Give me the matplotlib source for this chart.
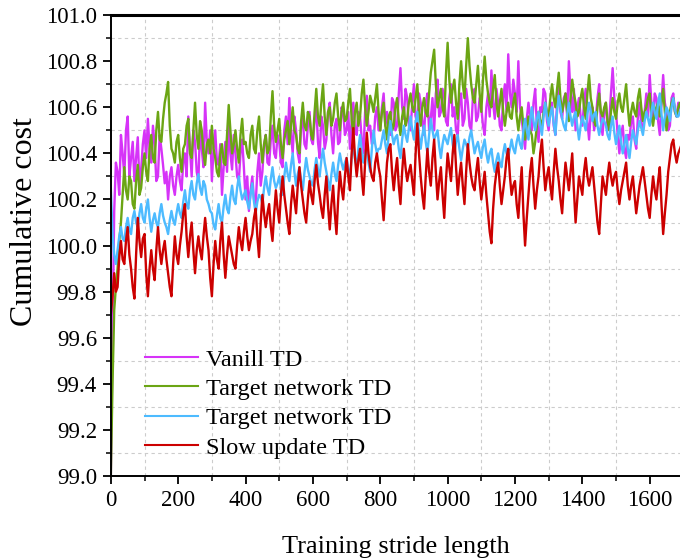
import matplotlib
matplotlib.use("Agg")
import matplotlib.pyplot as plt
import numpy as np
from matplotlib.ticker import MultipleLocator, FormatStrFormatter

step = 10
labels = ["Vanill TD", "Target network TD", "Target network TD", "Slow update TD"]
colors = ["#d633f8", "#6ba514", "#4dbbff", "#cc0000"]

# values at x = 0, 10, 20, ...
vanill = [
    99.00, 100.15, 100.32, 100.48, 100.30, 100.56, 100.38, 100.28, 100.47, 100.33,
    100.50, 100.55, 100.36, 100.44, 100.30, 100.42, 100.27, 100.20, 100.34, 100.22,
    100.35, 100.24, 100.40, 100.56, 100.30, 100.45, 100.28, 100.42, 100.62, 100.40,
    100.28, 100.50, 100.35, 100.22, 100.45, 100.52, 100.33, 100.40, 100.28, 100.46,
    100.20, 100.15, 100.30, 100.18, 100.40, 100.32, 100.48, 100.35, 100.52, 100.38,
    100.45, 100.34, 100.56, 100.64, 100.40, 100.50, 100.36, 100.55, 100.42, 100.58,
    100.44, 100.60, 100.38, 100.52, 100.46, 100.62, 100.40, 100.55, 100.45, 100.58,
    100.50, 100.42, 100.62, 100.48, 100.56, 100.40, 100.65, 100.52, 100.45, 100.60,
    100.50, 100.66, 100.58, 100.48, 100.62, 100.52, 100.77, 100.55, 100.64, 100.50,
    100.70, 100.52, 100.62, 100.48, 100.66, 100.55, 100.50, 100.72, 100.58, 100.64,
    100.52, 100.70, 100.60, 100.48, 100.66, 100.55, 100.62, 100.50, 100.68, 100.56,
    100.60, 100.48, 100.66, 100.76, 100.55, 100.62, 100.50, 100.70, 100.83, 100.60,
    100.66, 100.80, 100.55, 100.42, 100.62, 100.50, 100.68, 100.45, 100.58, 100.66,
    100.50, 100.62, 100.48, 100.70, 100.55, 100.66, 100.80, 100.58, 100.50, 100.64,
    100.52, 100.68, 100.46, 100.60, 100.55, 100.70, 100.48, 100.62, 100.54, 100.77,
    100.58, 100.40, 100.52, 100.38, 100.46, 100.56, 100.42, 100.62, 100.50, 100.66,
    100.74, 100.55, 100.64, 100.48, 100.74, 100.58, 100.52, 100.66, 100.56, 100.60,
]
# values at x = 5, 15, 25, ...
vanill_mid = [
    99.60, 100.36, 100.22, 100.40, 100.50, 100.30, 100.45, 100.38, 100.26, 100.44,
    100.38, 100.42, 100.52, 100.28, 100.48, 100.35, 100.32, 100.30, 100.26, 100.30,
    100.28, 100.36, 100.30, 100.42, 100.50, 100.32, 100.52, 100.34, 100.45, 100.50,
    100.42, 100.36, 100.44, 100.34, 100.32, 100.40, 100.48, 100.30, 100.40, 100.34,
    100.30, 100.24, 100.20, 100.32, 100.26, 100.44, 100.36, 100.46, 100.40, 100.48,
    100.36, 100.50, 100.44, 100.48, 100.56, 100.40, 100.52, 100.44, 100.52, 100.46,
    100.54, 100.45, 100.56, 100.42, 100.58, 100.48, 100.52, 100.44, 100.60, 100.48,
    100.58, 100.54, 100.50, 100.58, 100.46, 100.58, 100.50, 100.44, 100.56, 100.50,
    100.60, 100.52, 100.50, 100.64, 100.50, 100.66, 100.60, 100.68, 100.52, 100.62,
    100.56, 100.66, 100.54, 100.62, 100.50, 100.64, 100.66, 100.56, 100.68, 100.54,
    100.64, 100.56, 100.50, 100.62, 100.52, 100.68, 100.52, 100.64, 100.54, 100.64,
    100.52, 100.60, 100.56, 100.62, 100.68, 100.52, 100.64, 100.58, 100.66, 100.72,
    100.58, 100.60, 100.48, 100.55, 100.56, 100.62, 100.52, 100.60, 100.68, 100.54,
    100.60, 100.52, 100.62, 100.58, 100.64, 100.56, 100.66, 100.68, 100.60, 100.56,
    100.62, 100.54, 100.58, 100.50, 100.64, 100.54, 100.58, 100.50, 100.66, 100.64,
    100.48, 100.48, 100.42, 100.48, 100.54, 100.46, 100.56, 100.52, 100.58, 100.56,
    100.62, 100.66, 100.54, 100.62, 100.62, 100.50, 100.64, 100.58, 100.62, 100.56,
]

target_a = [
    99.00, 99.72, 99.90, 100.10, 100.34, 100.20, 100.28, 100.16, 100.35, 100.25,
    100.40, 100.28, 100.48, 100.36, 100.58, 100.45, 100.62, 100.71, 100.42, 100.36,
    100.48, 100.32, 100.44, 100.55, 100.38, 100.62, 100.42, 100.50, 100.35, 100.46,
    100.52, 100.38, 100.30, 100.44, 100.35, 100.61, 100.40, 100.50, 100.36, 100.55,
    100.45, 100.38, 100.52, 100.40, 100.56, 100.36, 100.48, 100.42, 100.67, 100.45,
    100.55, 100.38, 100.50, 100.44, 100.60, 100.48, 100.40, 100.62, 100.50, 100.56,
    100.46, 100.68, 100.52, 100.70, 100.48, 100.60, 100.55, 100.66, 100.50, 100.62,
    100.55, 100.68, 100.48, 100.62, 100.56, 100.72, 100.52, 100.65, 100.58, 100.70,
    100.50, 100.62, 100.46, 100.58, 100.52, 100.64, 100.48, 100.60, 100.55, 100.66,
    100.58, 100.70, 100.52, 100.64, 100.56, 100.75, 100.85, 100.60, 100.68, 100.56,
    100.88, 100.62, 100.72, 100.55, 100.80, 100.64, 100.90, 100.70, 100.62, 100.78,
    100.58, 100.82, 100.66, 100.60, 100.74, 100.56, 100.68, 100.52, 100.62, 100.55,
    100.66, 100.50, 100.60, 100.46, 100.56, 100.48, 100.45, 100.58, 100.52, 100.62,
    100.56, 100.70, 100.60, 100.75, 100.58, 100.66, 100.54, 100.72, 100.62, 100.58,
    100.68, 100.55, 100.74, 100.60, 100.52, 100.66, 100.56, 100.62, 100.50, 100.64,
    100.55, 100.66, 100.58, 100.70, 100.52, 100.62, 100.56, 100.68, 100.54, 100.60,
    100.66, 100.52, 100.60, 100.56, 100.68, 100.50, 100.58, 100.64, 100.56, 100.62,
]
target_a_mid = [
    99.40, 99.82, 100.02, 100.22, 100.24, 100.30, 100.18, 100.28, 100.22, 100.34,
    100.32, 100.42, 100.38, 100.50, 100.46, 100.55, 100.66, 100.52, 100.40, 100.45,
    100.38, 100.42, 100.52, 100.40, 100.50, 100.48, 100.54, 100.40, 100.44, 100.40,
    100.42, 100.32, 100.40, 100.36, 100.48, 100.50, 100.44, 100.42, 100.48, 100.44,
    100.40, 100.48, 100.42, 100.50, 100.44, 100.44, 100.40, 100.56, 100.52, 100.50,
    100.44, 100.46, 100.54, 100.52, 100.50, 100.42, 100.54, 100.52, 100.58, 100.48,
    100.58, 100.56, 100.62, 100.56, 100.58, 100.52, 100.62, 100.56, 100.58, 100.54,
    100.62, 100.55, 100.58, 100.52, 100.66, 100.60, 100.58, 100.62, 100.64, 100.58,
    100.58, 100.52, 100.56, 100.50, 100.60, 100.54, 100.56, 100.52, 100.62, 100.60,
    100.64, 100.58, 100.60, 100.58, 100.66, 100.80, 100.70, 100.64, 100.60, 100.74,
    100.72, 100.68, 100.62, 100.70, 100.70, 100.78, 100.78, 100.64, 100.70, 100.66,
    100.72, 100.72, 100.62, 100.68, 100.62, 100.62, 100.58, 100.58, 100.56, 100.62,
    100.56, 100.56, 100.52, 100.52, 100.50, 100.40, 100.52, 100.54, 100.58, 100.58,
    100.64, 100.64, 100.68, 100.64, 100.62, 100.58, 100.64, 100.66, 100.56, 100.64,
    100.60, 100.66, 100.64, 100.54, 100.60, 100.58, 100.60, 100.54, 100.58, 100.58,
    100.62, 100.60, 100.64, 100.60, 100.58, 100.58, 100.64, 100.60, 100.58, 100.64,
    100.56, 100.58, 100.62, 100.62, 100.58, 100.56, 100.62, 100.58, 100.60, 100.58,
]

target_b = [
    100.25, 99.96, 99.98, 100.08, 100.02, 100.12, 100.05, 100.15, 100.08, 100.18,
    100.10, 100.20, 100.06, 100.14, 100.08, 100.18, 100.10, 100.05, 100.15, 100.09,
    100.18, 100.12, 100.24, 100.16, 100.28, 100.20, 100.31, 100.22, 100.26, 100.18,
    100.14, 100.07, 100.18, 100.10, 100.22, 100.14, 100.26, 100.18, 100.30, 100.20,
    100.24, 100.16, 100.27, 100.14, 100.22, 100.18, 100.30, 100.22, 100.34, 100.25,
    100.30, 100.22, 100.36, 100.28, 100.40, 100.26, 100.34, 100.24, 100.38, 100.30,
    100.26, 100.38, 100.30, 100.42, 100.32, 100.24, 100.36, 100.28, 100.40, 100.33,
    100.38, 100.30, 100.44, 100.34, 100.48, 100.36, 100.42, 100.32, 100.50, 100.40,
    100.42, 100.50, 100.40, 100.54, 100.44, 100.48, 100.38, 100.52, 100.45, 100.56,
    100.46, 100.58, 100.42, 100.52, 100.40, 100.55, 100.46, 100.50, 100.38, 100.48,
    100.44, 100.51, 100.40, 100.48, 100.37, 100.46, 100.42, 100.50, 100.40, 100.45,
    100.38, 100.46, 100.36, 100.42, 100.32, 100.40, 100.34, 100.44, 100.38, 100.46,
    100.40, 100.48, 100.42, 100.55, 100.46, 100.60, 100.50, 100.58, 100.48, 100.62,
    100.52, 100.60, 100.48, 100.65, 100.55, 100.50, 100.62, 100.52, 100.58, 100.46,
    100.56, 100.50, 100.62, 100.54, 100.58, 100.48, 100.55, 100.52, 100.46, 100.56,
    100.44, 100.52, 100.40, 100.48, 100.38, 100.50, 100.44, 100.54, 100.48, 100.58,
    100.52, 100.62, 100.55, 100.66, 100.50, 100.60, 100.54, 100.64, 100.56, 100.58,
]
target_b_mid = [
    100.05, 99.92, 100.04, 100.03, 100.08, 100.07, 100.12, 100.10, 100.14, 100.12,
    100.16, 100.12, 100.11, 100.10, 100.14, 100.13, 100.08, 100.11, 100.11, 100.14,
    100.14, 100.19, 100.18, 100.24, 100.22, 100.27, 100.25, 100.28, 100.20, 100.15,
    100.09, 100.13, 100.12, 100.17, 100.16, 100.21, 100.20, 100.25, 100.24, 100.22,
    100.19, 100.22, 100.19, 100.19, 100.21, 100.25, 100.25, 100.29, 100.28, 100.27,
    100.25, 100.30, 100.31, 100.35, 100.32, 100.31, 100.28, 100.32, 100.33, 100.27,
    100.33, 100.33, 100.37, 100.36, 100.28, 100.31, 100.31, 100.35, 100.36, 100.36,
    100.33, 100.38, 100.38, 100.42, 100.41, 100.40, 100.36, 100.42, 100.44, 100.42,
    100.46, 100.44, 100.48, 100.48, 100.47, 100.42, 100.46, 100.48, 100.51, 100.50,
    100.53, 100.48, 100.48, 100.45, 100.48, 100.50, 100.48, 100.43, 100.44, 100.46,
    100.48, 100.44, 100.45, 100.42, 100.42, 100.44, 100.47, 100.45, 100.43, 100.41,
    100.43, 100.40, 100.40, 100.36, 100.37, 100.36, 100.40, 100.40, 100.42, 100.42,
    100.45, 100.44, 100.50, 100.50, 100.54, 100.54, 100.55, 100.52, 100.56, 100.56,
    100.57, 100.53, 100.58, 100.60, 100.52, 100.57, 100.56, 100.56, 100.52, 100.52,
    100.53, 100.57, 100.58, 100.57, 100.52, 100.52, 100.54, 100.48, 100.52, 100.49,
    100.48, 100.45, 100.44, 100.42, 100.45, 100.47, 100.50, 100.51, 100.54, 100.55,
    100.58, 100.58, 100.62, 100.57, 100.56, 100.58, 100.60, 100.59, 100.56, 100.60,
]

slow = [
    99.70, 99.88, 99.82, 100.02, 99.92, 100.08, 99.90, 99.77, 100.12, 99.95,
    100.05, 99.78, 99.98, 99.85, 100.08, 99.92, 100.02, 99.88, 99.78, 100.04,
    99.92, 100.06, 100.18, 99.95, 100.10, 99.88, 100.04, 99.94, 100.12, 99.98,
    99.78, 100.02, 99.90, 100.10, 99.86, 100.04, 99.96, 99.90, 100.08, 99.98,
    100.12, 99.98, 100.05, 100.16, 99.95, 100.22, 100.08, 100.18, 100.02, 100.24,
    100.10, 100.30, 100.16, 100.05, 100.26, 100.14, 100.34, 100.20, 100.10, 100.28,
    100.18, 100.35, 100.22, 100.12, 100.30, 100.07, 100.26, 100.05, 100.32, 100.20,
    100.38, 100.24, 100.51, 100.30, 100.42, 100.22, 100.49, 100.34, 100.28, 100.40,
    100.30, 100.11, 100.36, 100.44, 100.24, 100.38, 100.18, 100.42, 100.28, 100.35,
    100.22, 100.53, 100.30, 100.16, 100.42, 100.26, 100.46, 100.20, 100.34, 100.12,
    100.40, 100.28, 100.48, 100.22, 100.36, 100.18, 100.44, 100.30, 100.24, 100.38,
    100.20, 100.32, 100.14, 100.01, 100.26, 100.36, 100.18, 100.30, 100.42, 100.22,
    100.28, 100.12, 100.34, 100.00, 100.22, 100.38, 100.16, 100.30, 100.46, 100.24,
    100.34, 100.20, 100.42, 100.28, 100.14, 100.36, 100.24, 100.40, 100.10, 100.30,
    100.22, 100.38, 100.26, 100.34, 100.18, 100.05, 100.30, 100.22, 100.36, 100.26,
    100.32, 100.18, 100.28, 100.36, 100.20, 100.30, 100.14, 100.26, 100.34, 100.22,
    100.12, 100.30, 100.20, 100.34, 100.05, 100.22, 100.38, 100.46, 100.36, 100.42,
]
slow_mid = [
    99.78, 99.80, 99.95, 99.94, 100.02, 99.96, 99.82, 99.96, 100.02, 100.03,
    99.88, 99.90, 99.90, 99.98, 99.98, 99.98, 99.94, 99.82, 99.92, 99.96,
    100.00, 100.14, 100.04, 100.04, 99.98, 99.98, 99.98, 100.04, 100.04, 99.86,
    99.92, 99.94, 100.02, 99.96, 99.96, 100.00, 99.92, 100.00, 100.02, 100.06,
    100.04, 100.02, 100.12, 100.04, 100.10, 100.14, 100.14, 100.08, 100.14, 100.16,
    100.22, 100.22, 100.10, 100.18, 100.20, 100.26, 100.26, 100.14, 100.20, 100.22,
    100.28, 100.27, 100.16, 100.22, 100.17, 100.18, 100.14, 100.20, 100.25, 100.30,
    100.30, 100.40, 100.38, 100.37, 100.30, 100.36, 100.40, 100.30, 100.36, 100.34,
    100.20, 100.24, 100.42, 100.32, 100.32, 100.26, 100.32, 100.34, 100.32, 100.28,
    100.40, 100.40, 100.22, 100.30, 100.32, 100.38, 100.32, 100.28, 100.22, 100.28,
    100.34, 100.40, 100.34, 100.30, 100.26, 100.32, 100.36, 100.26, 100.32, 100.28,
    100.26, 100.22, 100.06, 100.16, 100.32, 100.26, 100.24, 100.38, 100.30, 100.26,
    100.18, 100.24, 100.14, 100.12, 100.32, 100.26, 100.24, 100.40, 100.34, 100.30,
    100.26, 100.32, 100.34, 100.20, 100.26, 100.30, 100.32, 100.24, 100.20, 100.26,
    100.32, 100.30, 100.30, 100.26, 100.10, 100.18, 100.26, 100.30, 100.30, 100.30,
    100.24, 100.24, 100.32, 100.26, 100.26, 100.22, 100.20, 100.30, 100.28, 100.16,
    100.22, 100.24, 100.28, 100.18, 100.14, 100.32, 100.44, 100.40, 100.40, 100.44,
]

series = [(vanill, vanill_mid), (target_a, target_a_mid),
          (target_b, target_b_mid), (slow, slow_mid)]

plt.rcParams['font.family'] = ['Liberation Serif', 'DejaVu Serif']

fig = plt.figure(figsize=(6.8, 5.6), dpi=100)
ax = fig.add_axes([0.163, 0.15, 0.837, 0.823])

for (on, mid), lab, col in zip(series, labels, colors):
    n = len(on)
    xs = np.empty(2 * n)
    ys = np.empty(2 * n)
    xs[0::2] = np.arange(n) * step
    xs[1::2] = np.arange(n) * step + step / 2
    ys[0::2] = on
    ys[1::2] = mid
    ax.plot(xs, ys, color=col, lw=1.7, label=lab)

ax.set_xlim(0, 1690)
ax.set_ylim(99.0, 101.0)
ax.xaxis.set_major_locator(MultipleLocator(200))
ax.xaxis.set_minor_locator(MultipleLocator(100))
ax.yaxis.set_major_locator(MultipleLocator(0.2))
ax.yaxis.set_minor_locator(MultipleLocator(0.1))
ax.yaxis.set_major_formatter(FormatStrFormatter('%.1f'))

ax.grid(False)
ax.grid(which='minor', color='#cccccc', linestyle=(0, (3, 3)), linewidth=0.8)
ax.set_axisbelow(True)

ax.tick_params(which='major', direction='out', length=6, width=1.3, labelsize=16.5,
               pad=4, top=False, right=False)
ax.tick_params(which='minor', direction='out', length=3.5, width=1.1,
               top=False, right=False)

for s in ['left', 'bottom']:
    ax.spines[s].set_linewidth(1.4)
ax.spines['top'].set_linewidth(2.2)
ax.spines['right'].set_visible(False)

ax.set_xlabel('Training stride length', fontsize=19, labelpad=18)
ax.set_ylabel('Cumulative cost', fontsize=23)
ax.yaxis.set_label_coords(-0.126, 0.553)

leg = ax.legend(loc='center left', bbox_to_anchor=(0.060, 0.157), frameon=False,
                fontsize=17.5, handlelength=2.2, handletextpad=0.3,
                labelspacing=0.3, borderaxespad=0, borderpad=0)
for h in leg.get_lines():
    h.set_linewidth(1.5)

fig.savefig('out.png', dpi=100)
